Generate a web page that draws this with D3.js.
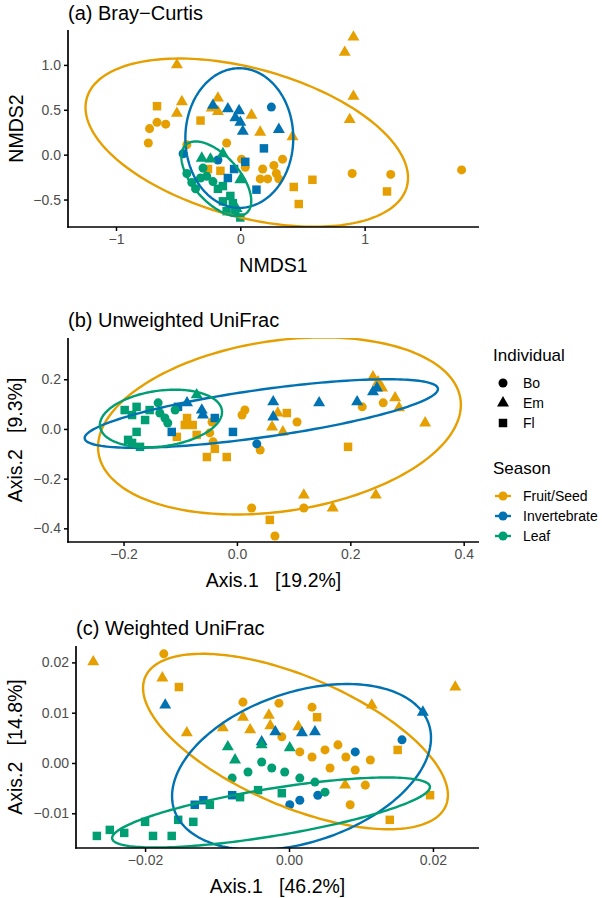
<!DOCTYPE html>
<html><head><meta charset="utf-8">
<script src="https://cdn.jsdelivr.net/npm/d3@7"></script>
<style>
body{margin:0;background:#fff}
svg{display:block}
text{font-family:"Liberation Sans",Arial,Helvetica,sans-serif}
</style>
</head><body>
<svg id="chart" width="602" height="898"></svg>
<script>
// ---------------- DATA ----------------
const seasons = ["Fruit/Seed", "Invertebrate", "Leaf"];
const seasonColors = ["#E69F00", "#0072B2", "#009E73"];
const individuals = ["Bo", "Em", "Fl"];

const titles = ["(a) Bray\u2212Curtis", "(b) Unweighted UniFrac", "(c) Weighted UniFrac"];
const xTitles = ["NMDS1", "Axis.1   [19.2%]", "Axis.1   [46.2%]"];
const yTitles = ["NMDS2", "Axis.2   [9.3%]", "Axis.2   [14.8%]"];

// axis limits and ticks
const aXDomain = [-1.386, 1.920], aYDomain = [-0.806, 1.389];
const bXDomain = [-0.298, 0.427], bYDomain = [-0.455, 0.366];
const cXDomain = [-0.0296, 0.0264], cYDomain = [-0.0169, 0.02326];
const aXTicks = [-1, 0, 1], aYTicks = [-0.5, 0, 0.5, 1.0];
const bXTicks = [-0.2, 0, 0.2, 0.4], bYTicks = [-0.4, -0.2, 0, 0.2];
const cXTicks = [-0.02, 0, 0.02], cYTicks = [-0.01, 0, 0.01, 0.02];
const aXLabels = ["\u22121", "0", "1"], aYLabels = ["\u22120.5", "0.0", "0.5", "1.0"];
const bXLabels = ["\u22120.2", "0.0", "0.2", "0.4"], bYLabels = ["\u22120.4", "\u22120.2", "0.0", "0.2"];
const cXLabels = ["\u22120.02", "0.00", "0.02"], cYLabels = ["\u22120.01", "0.00", "0.01", "0.02"];

// Panel (a) Bray-Curtis NMDS: [NMDS1, NMDS2, individual]
const aFruit = [
 [-0.51,1.00,"Em"],[-0.67,0.54,"Fl"],[-0.47,0.59,"Em"],[-0.51,0.46,"Em"],[-0.73,0.29,"Bo"],[-0.67,0.36,"Bo"],
 [-0.60,0.34,"Bo"],[-0.74,0.13,"Bo"],[-0.32,0.38,"Fl"],[-0.18,0.63,"Em"],[-0.23,0.52,"Em"],[-0.18,0.48,"Em"],
 [0.09,0.44,"Em"],[0.16,0.25,"Em"],[0.42,0.20,"Em"],[-0.43,0.11,"Bo"],[-0.11,0.13,"Bo"],[-0.26,-0.16,"Fl"],
 [-0.16,-0.18,"Fl"],[0.01,-0.05,"Bo"],[0.04,-0.14,"Bo"],[0.18,-0.16,"Bo"],[0.27,-0.12,"Bo"],[0.34,-0.05,"Bo"],
 [0.29,-0.21,"Bo"],[0.16,-0.27,"Bo"],[0.22,-0.27,"Bo"],[0.31,-0.27,"Bo"],[0.43,-0.36,"Fl"],[0.47,-0.55,"Fl"],
 [0.58,-0.28,"Fl"],[0.91,1.31,"Em"],[0.84,1.14,"Em"],[0.91,0.65,"Em"],[0.88,0.39,"Em"],[0.90,-0.21,"Bo"],
 [1.21,-0.22,"Bo"],[1.78,-0.17,"Bo"],[1.18,-0.41,"Fl"]
];
const aInvert = [
 [-0.22,0.55,"Em"],[-0.10,0.51,"Em"],[-0.01,0.49,"Em"],[-0.04,0.41,"Em"],[0.00,0.36,"Em"],[0.02,0.26,"Em"],
 [0.31,0.28,"Em"],[0.25,0.53,"Bo"],[0.19,0.07,"Fl"],[-0.46,0.01,"Bo"],[-0.18,-0.06,"Bo"],[0.04,-0.08,"Fl"],
 [-0.05,-0.16,"Fl"],[-0.10,-0.26,"Fl"],[0.13,-0.39,"Fl"]
];
const aLeaf = [
 [-0.31,-0.04,"Em"],[-0.14,0.01,"Em"],[-0.24,-0.05,"Em"],[0.00,-0.28,"Em"],[-0.43,-0.21,"Bo"],[-0.39,-0.31,"Bo"],
 [-0.36,-0.38,"Bo"],[-0.32,-0.26,"Bo"],[-0.27,-0.24,"Bo"],[-0.18,-0.38,"Fl"],[-0.14,-0.35,"Fl"],[-0.08,-0.46,"Fl"],
 [-0.14,-0.52,"Fl"],[-0.06,-0.54,"Fl"],[0.00,-0.70,"Fl"],[-0.11,-0.63,"Fl"],[-0.22,-0.30,"Bo"],[-0.03,-0.60,"Em"],
 [-0.30,-0.15,"Bo"],[-0.04,-0.64,"Fl"]
];

// Panel (b) Unweighted UniFrac PCoA: [Axis.1, Axis.2, individual]
const bFruit = [
 [-0.088,0.044,"Fl"],[-0.092,0.016,"Fl"],[-0.078,0.016,"Fl"],[-0.106,-0.032,"Fl"],[-0.071,-0.024,"Fl"],
 [-0.044,0.028,"Bo"],[-0.048,-0.016,"Bo"],[0.009,0.056,"Bo"],[0.014,0.076,"Bo"],[0.062,0.008,"Em"],
 [0.081,-0.012,"Em"],[0.088,0.064,"Fl"],[0.072,0.064,"Em"],[0.106,0.028,"Bo"],[0.221,0.089,"Bo"],
 [0.240,0.209,"Em"],[0.249,0.189,"Em"],[0.256,0.165,"Em"],[0.258,0.105,"Bo"],[0.279,0.125,"Em"],
 [0.286,0.085,"Em"],[0.332,0.024,"Em"],[0.196,-0.072,"Fl"],[0.041,-0.085,"Bo"],[-0.053,-0.113,"Fl"],
 [-0.039,-0.080,"Fl"],[-0.018,-0.113,"Fl"],[0.118,-0.266,"Em"],[0.245,-0.266,"Em"],[0.026,-0.318,"Bo"],
 [0.118,-0.318,"Bo"],[0.169,-0.318,"Em"],[0.058,-0.366,"Fl"],[0.067,-0.431,"Bo"],[-0.042,-0.052,"Bo"]
];
const bInvert = [
 [-0.104,0.089,"Fl"],[-0.115,-0.012,"Fl"],[-0.088,0.105,"Em"],[-0.062,0.076,"Em"],[-0.060,0.056,"Em"],
 [-0.039,0.044,"Fl"],[-0.007,-0.012,"Fl"],[0.064,0.109,"Em"],[0.064,0.048,"Em"],[0.145,0.105,"Em"],
 [0.212,0.109,"Em"],[0.240,0.149,"Em"],[0.247,0.165,"Em"],[0.035,-0.060,"Bo"]
];
const bLeaf = [
 [-0.177,0.089,"Fl"],[-0.185,0.056,"Fl"],[-0.162,0.036,"Fl"],[-0.177,-0.012,"Fl"],[-0.185,-0.056,"Fl"],
 [-0.171,-0.072,"Fl"],[-0.198,0.076,"Fl"],[-0.154,0.076,"Fl"],[-0.139,0.105,"Bo"],[-0.136,0.064,"Bo"],
 [-0.127,0.044,"Bo"],[-0.122,0.024,"Bo"],[-0.071,0.137,"Em"],[-0.109,0.076,"Bo"],[-0.192,-0.044,"Fl"]
];

// Panel (c) Weighted UniFrac PCoA: [Axis.1, Axis.2, individual]
const cFruit = [
 [-0.0272,0.0201,"Em"],[-0.0174,0.0217,"Bo"],[-0.0176,0.0169,"Em"],[-0.0153,0.0151,"Fl"],[-0.0064,0.0121,"Bo"],
 [-0.0014,0.0119,"Bo"],[0.0032,0.0111,"Bo"],[0.0039,0.0091,"Fl"],[-0.0142,0.0060,"Em"],[-0.0092,0.0070,"Em"],
 [-0.0064,0.0091,"Em"],[-0.0054,0.0066,"Em"],[-0.0028,0.0095,"Em"],[-0.0026,0.0074,"Em"],[0.0013,0.0072,"Em"],
 [-0.0010,0.0052,"Bo"],[0.0115,0.0115,"Em"],[0.0231,0.0151,"Em"],[0.0015,0.0022,"Bo"],[0.0032,0.0012,"Bo"],
 [0.0050,0.0026,"Bo"],[0.0068,0.0036,"Bo"],[0.0079,0.0012,"Bo"],[0.0057,-0.0010,"Bo"],[0.0092,-0.0014,"Bo"],
 [0.0106,-0.0044,"Bo"],[0.0078,-0.0044,"Em"],[0.0151,0.0026,"Fl"],[0.0196,-0.0064,"Fl"],[0.0085,-0.0083,"Bo"],
 [0.0140,-0.0113,"Fl"],[0.0113,0.0006,"Bo"]
];
const cInvert = [
 [-0.0172,0.0115,"Em"],[-0.0019,0.0062,"Em"],[0.0018,0.0060,"Em"],[0.0036,0.0062,"Em"],[0.0186,0.0101,"Em"],
 [0.0157,0.0046,"Bo"],[0.0092,0.0022,"Bo"],[0.0001,-0.0083,"Bo"],[0.0015,-0.0074,"Bo"],[-0.0131,-0.0083,"Fl"],
 [-0.0119,-0.0074,"Fl"],[-0.0079,-0.0064,"Fl"],[-0.0038,0.0042,"Em"],[0.0040,-0.0064,"Bo"]
];
const cLeaf = [
 [-0.0267,-0.0145,"Fl"],[-0.0249,-0.0133,"Fl"],[-0.0229,-0.0139,"Fl"],[-0.0200,-0.0117,"Fl"],[-0.0189,-0.0145,"Fl"],
 [-0.0163,-0.0145,"Fl"],[-0.0154,-0.0113,"Fl"],[-0.0133,-0.0117,"Fl"],[-0.0110,-0.0083,"Fl"],[-0.0068,-0.0068,"Fl"],
 [-0.0043,-0.0054,"Fl"],[-0.0010,-0.0060,"Fl"],[-0.0085,0.0032,"Em"],[-0.0038,0.0036,"Em"],[0.0001,0.0030,"Em"],
 [-0.0075,0.0006,"Em"],[-0.0038,0.0002,"Bo"],[-0.0024,-0.0010,"Bo"],[-0.0006,-0.0018,"Bo"],[0.0015,-0.0030,"Bo"],
 [0.0036,-0.0038,"Bo"],[0.0050,-0.0058,"Bo"],[-0.0079,-0.0030,"Bo"],[-0.0057,-0.0018,"Bo"]
];

// 95% ellipses per season (Fruit/Seed, Invertebrate, Leaf): [centre x, centre y, conjugate axis dx, dy, vertical half-chord]
const aEllipses = [[0.052,0.134,1.297,-0.392,0.851],[-0.008,0.185,0.434,0.0,0.778],[-0.193,-0.269,0.281,-0.246,0.336]];
const bEllipses = [[0.075,0.012,0.320,0.085,0.346],[0.043,0.062,0.3116,0.0986,0.0966],[-0.134,0.042,0.1077,0.026,0.113]];
const cEllipses = [[0.0009,0.00427,0.02118,-0.01064,0.01382],[0.00174,-0.0008,0.01799,0.0058,0.01545],[-0.0025,-0.00984,0.02208,0.00507,0.00477]];

// ---------------- DRAWING ----------------
const svg = d3.select("#chart");
const font = '"Liberation Sans",Arial,Helvetica,sans-serif';
const symbolTypes = {Bo: d3.symbolCircle, Em: d3.symbolTriangle, Fl: d3.symbolSquare};
const symbolSizes = {Bo: 64, Em: 62, Fl: 72};
const symbolFor = ind => d3.symbol().type(symbolTypes[ind]).size(symbolSizes[ind])();

const panels = [
  {box:{l:68,r:479,t:30,b:227}, xd:aXDomain, yd:aYDomain, xt:aXTicks, yt:aYTicks, xl:aXLabels, yl:aYLabels,
   series:[aFruit,aInvert,aLeaf], ell:aEllipses, titleY:20},
  {box:{l:68,r:479,t:338,b:542}, xd:bXDomain, yd:bYDomain, xt:bXTicks, yt:bYTicks, xl:bXLabels, yl:bYLabels,
   series:[bFruit,bInvert,bLeaf], ell:bEllipses, titleY:327},
  {box:{l:76,r:479,t:646,b:848}, xd:cXDomain, yd:cYDomain, xt:cXTicks, yt:cYTicks, xl:cXLabels, yl:cYLabels,
   series:[cFruit,cInvert,cLeaf], ell:cEllipses, titleY:635}
];

panels.forEach((p, i) => {
  const {l, r, t, b} = p.box;
  const x = d3.scaleLinear().domain(p.xd).range([l, r]);
  const y = d3.scaleLinear().domain(p.yd).range([b, t]);
  const g = svg.append("g");

  const clipId = "clip" + i;
  svg.append("clipPath").attr("id", clipId).append("rect")
    .attr("x", l).attr("y", t).attr("width", r - l).attr("height", b - t);
  const plot = g.append("g").attr("clip-path", `url(#${clipId})`);

  // points
  p.series.forEach((ser, si) => {
    plot.append("g").selectAll("path").data(ser).join("path")
      .attr("transform", d => `translate(${x(d[0])},${y(d[1])})`)
      .attr("d", d => symbolFor(d[2]))
      .attr("fill", seasonColors[si]);
  });

  // ellipses
  const tSteps = d3.range(0, 200).map(k => k / 200 * 2 * Math.PI);
  const line = d3.line().x(d => x(d[0])).y(d => y(d[1])).curve(d3.curveLinearClosed);
  p.ell.forEach((e, si) => {
    const pts = tSteps.map(tt => [e[0] + e[2] * Math.cos(tt), e[1] + e[3] * Math.cos(tt) + e[4] * Math.sin(tt)]);
    plot.append("path").attr("d", line(pts)).attr("fill", "none")
      .attr("stroke", seasonColors[si]).attr("stroke-width", 2.4);
  });

  // axes
  const xAxis = d3.axisBottom(x).tickValues(p.xt).tickFormat((d, k) => p.xl[k]).tickSize(4).tickSizeOuter(0).tickPadding(3);
  const yAxis = d3.axisLeft(y).tickValues(p.yt).tickFormat((d, k) => p.yl[k]).tickSize(4).tickSizeOuter(0).tickPadding(3);
  const gx = g.append("g").attr("transform", `translate(0,${b})`).call(xAxis);
  const gy = g.append("g").attr("transform", `translate(${l},0)`).call(yAxis);
  [gx, gy].forEach(ax => {
    ax.select(".domain").attr("stroke", "#000").attr("stroke-width", 1.7);
    ax.selectAll(".tick line").attr("stroke", "#000").attr("stroke-width", 1.5);
    ax.selectAll(".tick text").attr("fill", "#4d4d4d").style("font-size", "14px").style("font-family", font);
  });
  gx.select(".domain").attr("d", `M${l - 0.85},0H${r}`);
  gy.select(".domain").attr("d", `M0,${t}V${b + 0.85}`);

  // titles
  svg.append("text").attr("x", l).attr("y", p.titleY).text(titles[i])
    .style("font-size", "20px").attr("fill", "#000");
  svg.append("text").attr("x", (l + r) / 2).attr("y", b + 45).attr("text-anchor", "middle")
    .style("font-size", "19.5px").style("white-space", "pre").attr("xml:space", "preserve").text(xTitles[i]);
  svg.append("text").attr("transform", `translate(${i === 0 ? 23 : 22},${(t + b) / 2}) rotate(-90)`)
    .attr("text-anchor", "middle").style("font-size", "19.5px").style("white-space", "pre")
    .attr("xml:space", "preserve").text(yTitles[i]);
});

// ---------------- LEGEND ----------------
const lg = svg.append("g");
lg.append("text").attr("x", 493).attr("y", 361).text("Individual").style("font-size", "17px");
individuals.forEach((ind, k) => {
  const yy = 383 + k * 20;
  lg.append("path").attr("transform", `translate(503,${yy})`).attr("d", symbolFor(ind)).attr("fill", "#000");
  lg.append("text").attr("x", 523).attr("y", yy + 5).text(ind).style("font-size", "14px").attr("fill", "#000");
});
lg.append("text").attr("x", 493).attr("y", 474).text("Season").style("font-size", "17px");
seasons.forEach((s, k) => {
  const yy = 496 + k * 20;
  lg.append("line").attr("x1", 495).attr("x2", 511).attr("y1", yy).attr("y2", yy)
    .attr("stroke", seasonColors[k]).attr("stroke-width", 2.4);
  lg.append("circle").attr("cx", 503).attr("cy", yy).attr("r", 4.5).attr("fill", seasonColors[k]);
  lg.append("text").attr("x", 523).attr("y", yy + 5).text(s).style("font-size", "14px").attr("fill", "#000");
});
</script>
</body></html>
